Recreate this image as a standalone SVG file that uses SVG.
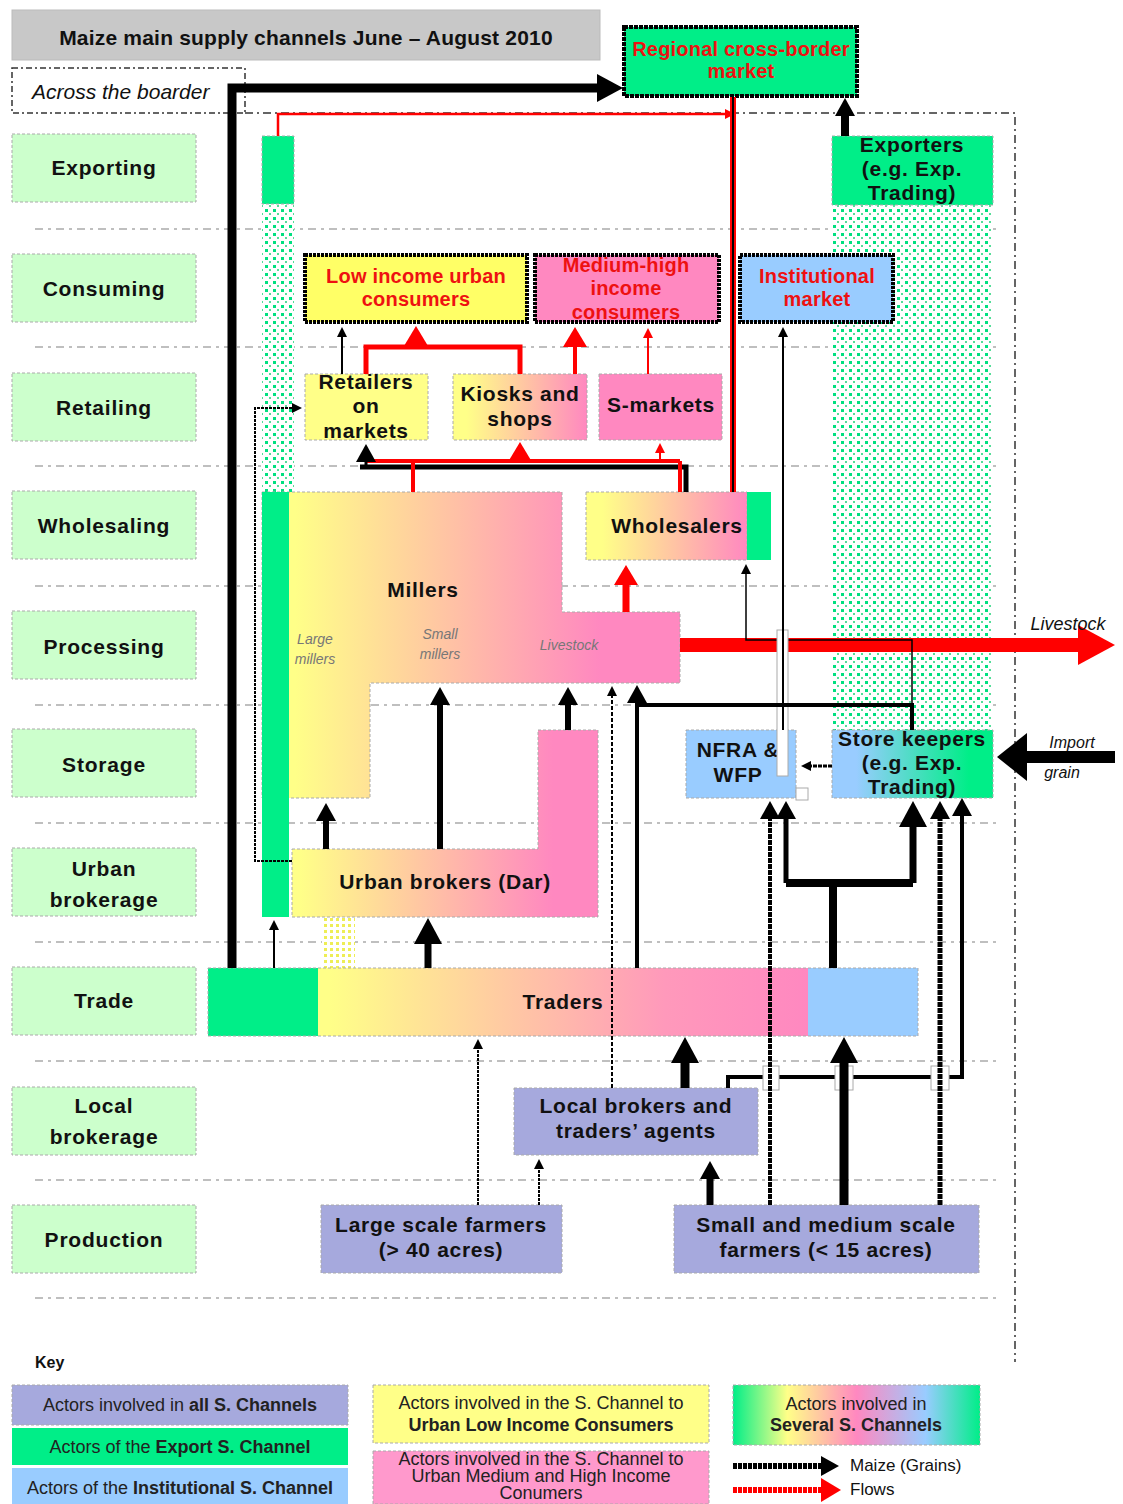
<svg xmlns="http://www.w3.org/2000/svg" width="1123" height="1504" viewBox="0 0 1123 1504">
<defs>
<style>
text{font-family:"Liberation Sans",Arial,sans-serif;}
.cat{fill:#ccffcc;stroke:#aaa;stroke-width:1;stroke-dasharray:3 2}
.ct{font-size:21px;font-weight:bold;fill:#111;text-anchor:middle;letter-spacing:0.8px}
.sep{stroke:#aaa;stroke-width:1.5;stroke-dasharray:8 5 3 5;fill:none}
.nt{font-size:21px;font-weight:bold;fill:#111;text-anchor:middle;letter-spacing:0.7px}
.rt{font-size:20px;font-weight:bold;fill:#ee1111;text-anchor:middle;letter-spacing:0.2px}
.box{stroke:#aaa;stroke-width:1;stroke-dasharray:3 2}
.cons{stroke:#000;stroke-width:4;stroke-dasharray:3 1}
.it{font-size:14px;font-style:italic;fill:#777;text-anchor:middle}
.kt{font-size:18px;fill:#222;text-anchor:middle}
.b{fill:none;stroke:#000}
.r{fill:none;stroke:#ff0000}
.xw{fill:#fff;stroke:#aaa;stroke-width:1}
</style>
<marker id="abL" markerUnits="userSpaceOnUse" viewBox="0 -14 26 28" refX="1" refY="0" markerWidth="26" markerHeight="28" orient="auto"><path d="M0,-14 L26,0 L0,14 z" fill="#000"/></marker>
<marker id="abXL" markerUnits="userSpaceOnUse" viewBox="0 -24 30 48" refX="1" refY="0" markerWidth="30" markerHeight="48" orient="auto"><path d="M0,-24 L30,0 L0,24 z" fill="#000"/></marker>
<marker id="abM" markerUnits="userSpaceOnUse" viewBox="0 -10 18 20" refX="1" refY="0" markerWidth="18" markerHeight="20" orient="auto"><path d="M0,-10 L18,0 L0,10 z" fill="#000"/></marker>
<marker id="abS" markerUnits="userSpaceOnUse" viewBox="0 -5 10 10" refX="1" refY="0" markerWidth="10" markerHeight="10" orient="auto"><path d="M0,-5 L10,0 L0,5 z" fill="#000"/></marker>
<marker id="arL" markerUnits="userSpaceOnUse" viewBox="0 -20 37 40" refX="1" refY="0" markerWidth="37" markerHeight="40" orient="auto"><path d="M0,-20 L37,0 L0,20 z" fill="#ff0000"/></marker>
<marker id="arM" markerUnits="userSpaceOnUse" viewBox="0 -12 20 24" refX="1" refY="0" markerWidth="20" markerHeight="24" orient="auto"><path d="M0,-12 L20,0 L0,12 z" fill="#ff0000"/></marker>
<marker id="arS" markerUnits="userSpaceOnUse" viewBox="0 -5 10 10" refX="1" refY="0" markerWidth="10" markerHeight="10" orient="auto"><path d="M0,-5 L10,0 L0,5 z" fill="#ff0000"/></marker>
<pattern id="dots" width="8" height="8" patternUnits="userSpaceOnUse"><rect width="8" height="8" fill="#fff"/><rect x="1" y="1" width="3" height="3" fill="#00e080"/><rect x="5" y="5" width="2" height="2" fill="#55dd99"/></pattern>
<pattern id="ydots" width="6" height="6" patternUnits="userSpaceOnUse"><rect width="6" height="6" fill="#fff"/><rect x="0" y="0" width="3" height="3" fill="#eeee55"/></pattern>
<linearGradient id="gMill" gradientUnits="userSpaceOnUse" x1="295" y1="0" x2="600" y2="0"><stop offset="0" stop-color="#ffff88"/><stop offset="1" stop-color="#ff88c0"/></linearGradient>
<linearGradient id="gUrb" gradientUnits="userSpaceOnUse" x1="300" y1="0" x2="598" y2="0"><stop offset="0" stop-color="#ffff88"/><stop offset="0.85" stop-color="#ff88c0"/><stop offset="1" stop-color="#ff88c0"/></linearGradient>
<linearGradient id="gTr" gradientUnits="userSpaceOnUse" x1="330" y1="0" x2="808" y2="0"><stop offset="0" stop-color="#ffff88"/><stop offset="0.7" stop-color="#ff99bb"/><stop offset="1" stop-color="#ff88c0"/></linearGradient>
<linearGradient id="gYP" x1="0" y1="0" x2="1" y2="0"><stop offset="0.1" stop-color="#ffff88"/><stop offset="1" stop-color="#ff88c0"/></linearGradient>
<linearGradient id="gBG" x1="0" y1="0" x2="1" y2="0"><stop offset="0.15" stop-color="#99ccff"/><stop offset="0.85" stop-color="#00ee88"/></linearGradient>
<linearGradient id="gSev" x1="0" y1="0" x2="1" y2="0"><stop offset="0" stop-color="#00ee88"/><stop offset="0.22" stop-color="#ffff88"/><stop offset="0.5" stop-color="#ff88c0"/><stop offset="0.78" stop-color="#99ccff"/><stop offset="1" stop-color="#00ee88"/></linearGradient>
</defs>
<rect width="1123" height="1504" fill="#fff"/>

<g id="separators">
<path class="sep" d="M35,229H1000M35,347H1000M35,466H1000M35,586H1000M35,705H1000M35,823H1000M35,942H1000M35,1061H1000M35,1180H1000M35,1298H1000"/>
<path d="M245,113H1015V1362" fill="none" stroke="#333" stroke-width="1.5" stroke-dasharray="8 4 2 4"/>
</g>

<g id="title">
<rect x="12" y="10" width="588" height="50" fill="#c8c8c8" stroke="#bbb"/>
<text x="306" y="45" font-size="21" font-weight="bold" text-anchor="middle" fill="#111" letter-spacing="0.2">Maize main supply channels June – August 2010</text>
</g>
<g id="across">
<rect x="12" y="68" width="233" height="45" fill="none" stroke="#333" stroke-width="1.5" stroke-dasharray="6 3 2 3"/>
<text x="32" y="99" font-size="21" font-style="italic" fill="#111">Across the boarder</text>
</g>

<g id="categories">
<rect class="cat" x="12" y="134" width="184" height="68"/><text class="ct" x="104" y="175">Exporting</text>
<rect class="cat" x="12" y="254" width="184" height="68"/><text class="ct" x="104" y="296">Consuming</text>
<rect class="cat" x="12" y="373" width="184" height="68"/><text class="ct" x="104" y="415">Retailing</text>
<rect class="cat" x="12" y="491" width="184" height="68"/><text class="ct" x="104" y="533">Wholesaling</text>
<rect class="cat" x="12" y="611" width="184" height="68"/><text class="ct" x="104" y="654">Processing</text>
<rect class="cat" x="12" y="729" width="184" height="68"/><text class="ct" x="104" y="772">Storage</text>
<rect class="cat" x="12" y="848" width="184" height="68"/><text class="ct" x="104" y="876">Urban</text><text class="ct" x="104" y="907">brokerage</text>
<rect class="cat" x="12" y="967" width="184" height="68"/><text class="ct" x="104" y="1008">Trade</text>
<rect class="cat" x="12" y="1087" width="184" height="68"/><text class="ct" x="104" y="1113">Local</text><text class="ct" x="104" y="1144">brokerage</text>
<rect class="cat" x="12" y="1205" width="184" height="68"/><text class="ct" x="104" y="1247">Production</text>
</g>

<g id="green-columns">
<rect x="262" y="204" width="32" height="288" fill="url(#dots)"/>
<rect x="832" y="205" width="161" height="525" fill="url(#dots)"/>
<rect x="322" y="917" width="33" height="51" fill="url(#ydots)"/>
</g>

<g id="node-regional">
<rect x="624" y="27" width="233" height="69" fill="#00ee88" stroke="#000" stroke-width="4" stroke-dasharray="4 1"/>
<text class="rt" x="741" y="56">Regional cross-border</text><text class="rt" x="741" y="78">market</text>
</g>
<g id="node-exporters">
<rect x="832" y="136" width="161" height="69" fill="#00ee88" class="box"/>
<text class="nt" x="912" y="152">Exporters</text><text class="nt" x="912" y="176">(e.g. Exp.</text><text class="nt" x="912" y="200">Trading)</text>
</g>
<g id="node-export-small">
<rect x="262" y="136" width="32" height="68" fill="#00ee88" class="box"/>
</g>

<g id="node-low-income">
<rect x="305" y="255" width="222" height="67" fill="#ffff66" class="cons"/>
<text class="rt" x="416" y="283">Low income urban</text><text class="rt" x="416" y="306">consumers</text>
</g>
<g id="node-medium-high">
<rect x="535" y="255" width="184" height="67" fill="#ff88c0" class="cons"/>
<text class="rt" x="626" y="272">Medium-high</text><text class="rt" x="626" y="295">income</text><text class="rt" x="626" y="319">consumers</text>
</g>
<g id="node-institutional">
<rect x="740" y="255" width="153" height="67" fill="#99ccff" class="cons"/>
<text class="rt" x="817" y="283">Institutional</text><text class="rt" x="817" y="306">market</text>
</g>

<g id="node-retailers">
<rect x="305" y="374" width="123" height="66" fill="#ffff88" class="box"/>
<text class="nt" x="366" y="389">Retailers</text><text class="nt" x="366" y="413">on</text><text class="nt" x="366" y="438">markets</text>
</g>
<g id="node-kiosks">
<rect x="453" y="374" width="134" height="66" fill="url(#gYP)" class="box"/>
<text class="nt" x="520" y="401">Kiosks and</text><text class="nt" x="520" y="426">shops</text>
</g>
<g id="node-smarkets">
<rect x="599" y="374" width="123" height="66" fill="#ff88c0" class="box"/>
<text class="nt" x="661" y="412">S-markets</text>
</g>

<g id="node-millers">
<path d="M262,492H562V612H680V683H370V798H262Z" fill="url(#gMill)" class="box"/>
<rect x="262" y="492" width="27" height="425" fill="#00ee88"/>
<text class="nt" x="423" y="597">Millers</text>
<text class="it" x="315" y="644">Large</text><text class="it" x="315" y="664">millers</text>
<text class="it" x="440" y="639">Small</text><text class="it" x="440" y="659">millers</text>
<text class="it" x="569" y="650">Livestock</text>
</g>
<g id="node-wholesalers">
<rect x="586" y="492" width="161" height="68" fill="url(#gYP)" class="box"/>
<rect x="747" y="492" width="24" height="68" fill="#00ee88"/>
<text class="nt" x="677" y="533">Wholesalers</text>
</g>

<g id="node-nfra">
<rect x="686" y="730" width="110" height="68" fill="#99ccff" class="box"/>
<text class="nt" x="738" y="757">NFRA &amp;</text><text class="nt" x="738" y="782">WFP</text>
</g>
<g id="node-storekeepers">
<rect x="832" y="730" width="161" height="68" fill="url(#gBG)" class="box"/>
<text class="nt" x="912" y="746">Store keepers</text><text class="nt" x="912" y="770">(e.g. Exp.</text><text class="nt" x="912" y="794">Trading)</text>
</g>

<g id="node-urban-brokers">
<path d="M292,849H538V730H598V917H292Z" fill="url(#gUrb)" class="box"/>
<text class="nt" x="445" y="889">Urban brokers (Dar)</text>
</g>

<g id="node-traders">
<rect x="318" y="968" width="490" height="68" fill="url(#gTr)"/>
<rect x="208" y="968" width="110" height="68" fill="#00ee88"/>
<rect x="808" y="968" width="110" height="68" fill="#99ccff"/>
<rect x="208" y="968" width="710" height="68" fill="none" class="box"/>
<text class="nt" x="563" y="1009">Traders</text>
</g>

<g id="node-local-brokers">
<rect x="514" y="1088" width="244" height="67" fill="#a6a9dd" class="box"/>
<text class="nt" x="636" y="1113">Local brokers and</text><text class="nt" x="636" y="1138">traders’ agents</text>
</g>
<g id="node-large-farmers">
<rect x="321" y="1205" width="241" height="68" fill="#a6a9dd" class="box"/>
<text class="nt" x="441" y="1232">Large scale farmers</text><text class="nt" x="441" y="1257">(&gt; 40 acres)</text>
</g>
<g id="node-small-farmers">
<rect x="674" y="1205" width="305" height="68" fill="#a6a9dd" class="box"/>
<text class="nt" x="826" y="1232">Small and medium scale</text><text class="nt" x="826" y="1257">farmers (&lt; 15 acres)</text>
</g>

<g id="connectors">
<path class="r" stroke-width="2.5" d="M278,136V114H726" marker-end="url(#arS)"/>
<path class="r" stroke-width="6" d="M733,492V97"/>
<path class="b" stroke-width="2" d="M733,492V97"/>
<path class="r" stroke-width="14" d="M680,645H1079" marker-end="url(#arL)"/>
<path class="r" stroke-width="7" d="M626,612V584" marker-end="url(#arM)"/>
<path class="b" stroke-width="5" d="M360,467H686V492"/>
<path class="r" stroke-width="4" d="M413,492V461M680,492V461M366,461H680"/>
<path class="b" stroke-width="3" d="M366,467V461" marker-end="url(#abM)"/>
<path class="r" stroke-width="4" d="M520,462V461" marker-end="url(#arM)"/>
<path class="r" stroke-width="2" d="M660,461V452" marker-end="url(#arS)"/>
<path class="r" stroke-width="5" d="M366,374V347H520V374"/>
<path class="r" stroke-width="5" d="M416,347V345" marker-end="url(#arM)"/>
<path class="r" stroke-width="4" d="M575,374V346" marker-end="url(#arM)"/>
<path class="r" stroke-width="2" d="M648,374V337" marker-end="url(#arS)"/>
<path class="b" stroke-width="9" d="M232,968V88H598" marker-end="url(#abL)"/>
<path class="b" stroke-width="8" d="M845,136V115" marker-end="url(#abM)"/>
<path class="b" stroke-width="2" d="M342,374V336" marker-end="url(#abS)"/>
<path class="b" stroke-width="2" stroke-dasharray="3 1" d="M292,861H255V408H293" marker-end="url(#abS)"/>
<path class="b" stroke-width="2" d="M274,968V929" marker-end="url(#abS)"/>
<path class="b" stroke-width="6" d="M326,849V820" marker-end="url(#abM)"/>
<path class="b" stroke-width="6" d="M440,849V704" marker-end="url(#abM)"/>
<path class="b" stroke-width="6" d="M568,730V704" marker-end="url(#abM)"/>
<path class="b" stroke-width="7" d="M428,968V943" marker-end="url(#abL)"/>
<path class="b" stroke-width="1.5" d="M912,730V640H746V573" marker-end="url(#abS)"/>
<rect class="xw" x="777" y="630" width="11" height="146"/>
<path class="b" stroke-width="2" d="M783,730V336" marker-end="url(#abS)"/>
<path class="b" stroke-width="4" d="M912,730V705H637"/>
<path class="b" stroke-width="4" d="M637,968V702" marker-end="url(#abM)"/>
<path class="b" stroke-width="2" stroke-dasharray="4 2" d="M612,1088V695" marker-end="url(#abS)"/>
<path class="b" stroke-width="3" stroke-dasharray="4 1" d="M832,766H810" marker-end="url(#abS)"/>
<path class="b" stroke-width="12" d="M1115,757H1026" marker-end="url(#abXL)"/>
<path class="b" stroke-width="8" d="M833,968V883M786,883H913"/>
<path class="b" stroke-width="5" d="M786,883V818" marker-end="url(#abM)"/>
<path class="b" stroke-width="7" d="M913,883V826" marker-end="url(#abL)"/>
<path class="b" stroke-width="4" d="M728,1088V1077H962V815" marker-end="url(#abM)"/>
<rect class="xw" x="763" y="1066" width="16" height="24"/>
<rect class="xw" x="835" y="1066" width="18" height="24"/>
<rect class="xw" x="931" y="1066" width="18" height="24"/>
<rect class="xw" x="796" y="788" width="12" height="12"/>
<path class="b" stroke-width="4" stroke-dasharray="5 1" d="M770,1205V818" marker-end="url(#abM)"/>
<path class="b" stroke-width="5" stroke-dasharray="5 1" d="M940,1205V818" marker-end="url(#abM)"/>
<path class="b" stroke-width="9" d="M844,1205V1062" marker-end="url(#abL)"/>
<path class="b" stroke-width="9" d="M685,1088V1062" marker-end="url(#abL)"/>
<path class="b" stroke-width="7" d="M710,1205V1178" marker-end="url(#abM)"/>
<path class="b" stroke-width="2" stroke-dasharray="3 1" d="M478,1205V1048" marker-end="url(#abS)"/>
<path class="b" stroke-width="2" stroke-dasharray="3 1" d="M539,1205V1168" marker-end="url(#abS)"/>
</g>

<g id="external-labels">
<text x="1068" y="630" font-size="18" font-style="italic" fill="#111" text-anchor="middle">Livestock</text>
<text x="1072" y="748" font-size="16" font-style="italic" fill="#111" text-anchor="middle">Import</text>
<text x="1062" y="778" font-size="16" font-style="italic" fill="#111" text-anchor="middle">grain</text>
</g>

<g id="key">
<text x="35" y="1368" font-size="16" font-weight="bold" fill="#111">Key</text>
<rect x="12" y="1385" width="336" height="40" fill="#a6a9dd" class="box"/>
<text class="kt" x="180" y="1411">Actors involved in <tspan font-weight="bold">all S. Channels</tspan></text>
<rect x="12" y="1428" width="336" height="37" fill="#00ee88"/>
<text class="kt" x="180" y="1453">Actors of the <tspan font-weight="bold">Export S. Channel</tspan></text>
<rect x="12" y="1468" width="336" height="36" fill="#99ccff"/>
<text class="kt" x="180" y="1494">Actors of the <tspan font-weight="bold">Institutional S. Channel</tspan></text>
<rect x="373" y="1385" width="336" height="58" fill="#ffff88" class="box"/>
<text class="kt" x="541" y="1409">Actors involved in the S. Channel to</text>
<text class="kt" x="541" y="1431" font-weight="bold">Urban Low Income Consumers</text>
<rect x="373" y="1451" width="336" height="53" fill="#ff99cc" class="box"/>
<text class="kt" x="541" y="1465" font-size="17">Actors involved in the S. Channel to</text>
<text class="kt" x="541" y="1482" font-size="17">Urban Medium and High Income</text>
<text class="kt" x="541" y="1499" font-size="17">Conumers</text>
<rect x="733" y="1385" width="247" height="60" fill="url(#gSev)" class="box"/>
<text class="kt" x="856" y="1410">Actors involved in</text>
<text class="kt" x="856" y="1431" font-weight="bold">Several S. Channels</text>
<path class="b" stroke-width="6" stroke-dasharray="4 1" d="M733,1466H822" marker-end="url(#abM)"/>
<path class="r" stroke-width="6" stroke-dasharray="4 1" d="M733,1490H822" marker-end="url(#arM)"/>
<text x="850" y="1471" font-size="17" fill="#111">Maize (Grains)</text>
<text x="850" y="1495" font-size="17" fill="#111">Flows</text>
</g>
</svg>
